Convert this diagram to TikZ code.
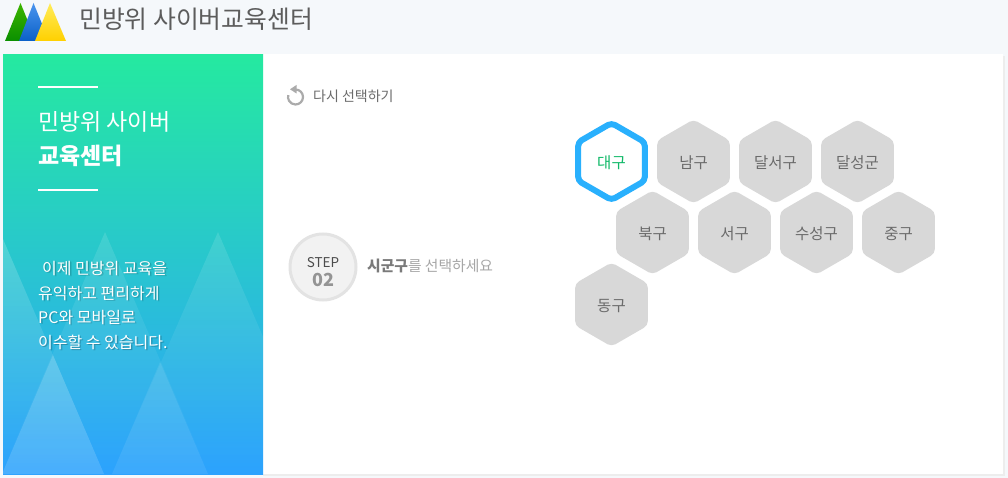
\documentclass[tikz,border=0pt]{standalone}
\usepackage{fontspec}
\setmainfont{Noto Sans CJK KR}
\usetikzlibrary{shapes.geometric, fadings}
\usetikzlibrary{arrows.meta, positioning}
\definecolor{pagebg}{HTML}{F5F8FB}
\definecolor{hexgray}{HTML}{D8D8D8}
\definecolor{hexblue}{HTML}{29B0FD}
\definecolor{hexgreen}{HTML}{10B968}
\definecolor{panelt}{HTML}{25E9A0}
\definecolor{panelb}{HTML}{2CA2FE}
\definecolor{logogt}{HTML}{3DB500}
\definecolor{logogb}{HTML}{0A8F00}
\definecolor{logobt}{HTML}{4A94EE}
\definecolor{logobb}{HTML}{0A60C8}
\definecolor{logoyt}{HTML}{FFEC5A}
\definecolor{logoyb}{HTML}{FFD000}
\newcommand{\pxfont}[1]{\fontsize{#1}{#1}\selectfont}
\newcommand{\softtext}[1]{\rlap{\kern1.6pt\raisebox{-1.6pt}{\pgfsetfillopacity{.13}\color{black}#1}}\rlap{\kern.8pt\raisebox{-.8pt}{\pgfsetfillopacity{.13}\color{black}#1}}\pgfsetfillopacity{1}#1}
\tikzfading[name=peakfade, top color=transparent!88, bottom color=transparent!100]
\tikzfading[name=edgefade, top color=transparent!80, bottom color=transparent!100]
\tikzset{
    district/.style={regular polygon, regular polygon sides=6, shape border rotate=30,
        minimum size=84pt, inner sep=0pt, fill=hexgray, rounded corners=4.5pt,
        text=black!58, font=\pxfont{15.5}, text height=15pt, text depth=1pt},
    picked/.style={district, minimum size=77pt, fill=white, draw=hexblue, line width=6pt,
        rounded corners=4pt, text=hexgreen},
    paneltext/.style={anchor=west, inner sep=0pt, text=white},
    whitebar/.style={draw=white, line width=1.8pt},
    peak/.style={fill=white, path fading=peakfade},
    edgepeak/.style={fill=white, path fading=edgefade},
    lowpeak/.style={fill=white, fill opacity=.14},
    midpeak/.style={fill=white, fill opacity=.08}
}
\begin{document}
\begin{tikzpicture}[x=1pt,y=-1pt]
    \useasboundingbox (0,0) rectangle (1008,478);
    \fill[pagebg] (0,0) rectangle (1008,478);

    % logo
    \shade[top color=logogt, bottom color=logogb] (20.5,3) -- (36,41) -- (5,41) -- cycle;
    \shade[top color=logobt, bottom color=logobb] (33.5,3) -- (49,41) -- (19,41) -- cycle;
    \shade[top color=logoyt, bottom color=logoyb] (50,3) -- (66,41) -- (35,41) -- cycle;
    \node (title) [anchor=west, inner sep=0pt, text=black!64, font=\pxfont{24.8}] at (79,19) {민방위 사이버교육센터};

    % panels
    \fill[black!7] (263,56) rectangle (1005,476);
    \fill[white] (263,54.5) rectangle (1003,474);
    \shade[top color=panelt, bottom color=panelb] (3,54.5) rectangle (263,474);
    \begin{scope}
        \clip (3,54.5) rectangle (263,474);
        \fill[edgepeak] (0,232) -- (104,474) -- (-104,474) -- cycle;
        \fill[peak] (105,232) -- (209,474) -- (1,474) -- cycle;
        \fill[peak] (218,232) -- (322,474) -- (112,474) -- cycle;
        \fill[lowpeak] (53,355) -- (104,474) -- (2,474) -- cycle;
        \fill[midpeak] (160,362) -- (208,474) -- (112,474) -- cycle;
    \end{scope}

    \coordinate (bar1a) at (38,87);
    \coordinate (bar1b) at (98,87);
    \coordinate (bar2a) at (38,190);
    \coordinate (bar2b) at (98,190);
    \draw[whitebar] (bar1a) -- (bar1b);
    \draw[whitebar] (bar2a) -- (bar2b);
    \node (head1) [paneltext, font=\pxfont{23}] at (38,121.5) {민방위 사이버};
    \node (head2) [paneltext, font=\pxfont{23}\bfseries] at (38,156) {교육센터};
    \node (line1) [paneltext, font=\pxfont{16}] at (42,269) {\softtext{이제 민방위 교육을}};
    \node (line2) [paneltext, font=\pxfont{16}] at (38,294) {\softtext{유익하고 편리하게}};
    \node (line3) [paneltext, font=\pxfont{16}] at (38,318) {\softtext{PC와 모바일로}};
    \node (line4) [paneltext, font=\pxfont{16}] at (38,343) {\softtext{이수할 수 있습니다.}};

    % redo icon
    \draw[black!33, line width=2.2pt] (295.5,89.5) arc[start angle=-90, end angle=195, radius=7.5];
    \fill[black!33] (296.5,85) -- (296.5,93.5) -- (290,89.3) -- cycle;
    \node (redo) [anchor=west, inner sep=0pt, text=black!58, font=\pxfont{14}] at (313,96.5) {다시 선택하기};

    % step
    \node (step) [circle, minimum size=66pt, inner sep=0pt, fill=black!5, draw=black!11, line width=3pt] at (323,267) {};
    \node (steptxt) [inner sep=0pt, text=black!70, font=\pxfont{13.5}] at (323,263) {STEP};
    \node (stepnum) [inner sep=0pt, text=black!42, font=\pxfont{18}\bfseries] at (323,280) {02};
    \node (ask) [anchor=west, inner sep=0pt, text=black!35, font=\pxfont{14.8}] at (367,266) {{\bfseries\color{black!52}시군구}를 선택하세요};

    % districts
    \node (daegu) [picked] at (611.5,161.5) {대구};
    \node (namgu) [district] at (693.5,161.5) {남구};
    \node (dalseo) [district] at (775.5,161.5) {달서구};
    \node (dalseong) [district] at (857.5,161.5) {달성군};
    \node (bukgu) [district] at (652.5,232.5) {북구};
    \node (seogu) [district] at (734.5,232.5) {서구};
    \node (suseong) [district] at (816.5,232.5) {수성구};
    \node (junggu) [district] at (898.5,232.5) {중구};
    \node (donggu) [district] at (611.5,304.5) {동구};
\end{tikzpicture}
\end{document}
